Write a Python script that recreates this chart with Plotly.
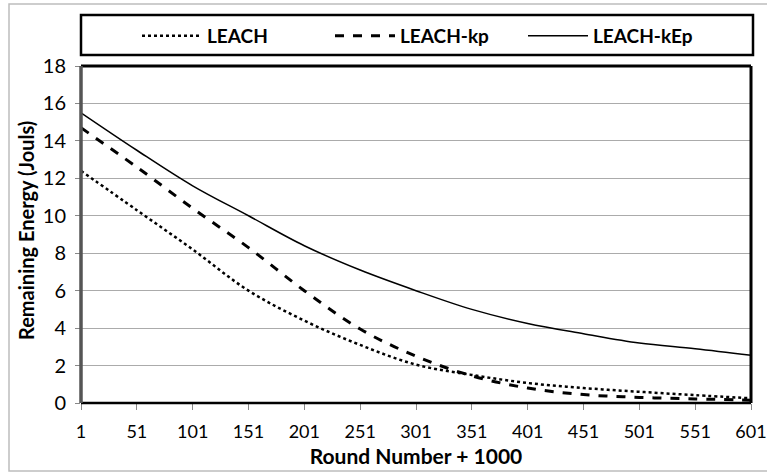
import plotly.graph_objects as go

rounds = [1, 51, 101, 151, 201, 251, 301, 351, 401, 451, 501, 551, 601]
leach = [12.4, 10.3, 8.2, 6.0, 4.4, 3.1, 2.05, 1.5, 1.07, 0.8, 0.6, 0.42, 0.25]
leach_kp = [14.7, 12.6, 10.4, 8.3, 6.0, 3.95, 2.5, 1.45, 0.8, 0.45, 0.3, 0.22, 0.15]
leach_kep = [15.5, 13.5, 11.6, 10.0, 8.4, 7.1, 6.0, 5.0, 4.25, 3.7, 3.2, 2.9, 2.55]
x_ticks = [1, 51, 101, 151, 201, 251, 301, 351, 401, 451, 501, 551, 601]
y_ticks = [0, 2, 4, 6, 8, 10, 12, 14, 16, 18]

FONT = "Lato"

fig = go.Figure()
fig.add_trace(go.Scatter(x=rounds, y=leach, name="LEACH", mode="lines",
                         line=dict(color="black", width=2.5, dash="dot", shape="spline")))
fig.add_trace(go.Scatter(x=rounds, y=leach_kp, name="LEACH-kp", mode="lines",
                         line=dict(color="black", width=3, dash="dash", shape="spline")))
fig.add_trace(go.Scatter(x=rounds, y=leach_kep, name="LEACH-kEp", mode="lines",
                         line=dict(color="black", width=1.5, shape="spline")))

L, R, T, B = 81, 16, 66, 70
W, H = 767, 473
pw, ph = W - L - R, H - T - B

def px(xp):
    return (xp - L) / pw

def py(yp):
    return (H - B - yp) / ph

shapes = [
    # outer frame
    dict(type="rect", xref="paper", yref="paper", x0=px(9), x1=px(770), y0=py(471), y1=py(4),
         line=dict(color="#BDBDBD", width=1.5), layer="above"),
    # legend box
    dict(type="rect", xref="paper", yref="paper", x0=px(81), x1=px(753), y0=py(55), y1=py(15),
         line=dict(color="black", width=2.5)),
    # plot border
    dict(type="line", xref="paper", yref="paper", x0=0, x1=1, y0=1, y1=1, line=dict(color="black", width=3)),
    dict(type="line", xref="paper", yref="paper", x0=1, x1=1, y0=0, y1=1, line=dict(color="black", width=3)),
    dict(type="line", xref="paper", yref="paper", x0=0, x1=1, y0=0, y1=0, line=dict(color="black", width=2.5)),
    dict(type="line", xref="paper", yref="paper", x0=0, x1=0, y0=0, y1=1, line=dict(color="#555555", width=3.5)),
]

fig.update_layout(
    width=W, height=H,
    margin=dict(l=L, r=R, t=T, b=B, autoexpand=False),
    paper_bgcolor="white", plot_bgcolor="white",
    font=dict(family=FONT, color="black"),
    shapes=shapes,
    showlegend=True,
    legend=dict(orientation="h", x=px(137), xanchor="left", y=py(36), yanchor="middle",
                bgcolor="rgba(0,0,0,0)", font=dict(family=FONT, size=19, weight="bold"),
                entrywidth=118, entrywidthmode="pixels", itemwidth=60, tracegroupgap=0),
    annotations=[dict(text="Remaining Energy (Jouls)", textangle=-90, xref="paper", yref="paper",
                      x=px(26), y=py(231), xanchor="center", yanchor="middle", showarrow=False,
                      font=dict(size=20, family=FONT, weight="bold"))],
    xaxis=dict(range=[1, 601], tickmode="array", tickvals=x_ticks, ticktext=[str(v) for v in x_ticks],
               showgrid=False, zeroline=False, showline=False, automargin=False,
               ticks="outside", ticklen=6, tickcolor="#888888", tickwidth=1,
               tickfont=dict(size=18, family=FONT), ticklabelstandoff=6, ticklabeloverflow="allow",
               title=dict(text="Round Number + 1000", font=dict(size=21, family=FONT, weight="bold"), standoff=8)),
    yaxis=dict(range=[0, 18], tickmode="array", tickvals=y_ticks, automargin=False,
               showgrid=True, gridcolor="#ABABAB", gridwidth=1, zeroline=False, showline=False,
               ticks="outside", ticklen=5, tickcolor="#888888",
               tickfont=dict(size=20, family=FONT), ticklabelstandoff=5),
)

fig.write_html("out.html", config={"displayModeBar": False},
               post_script="document.body.style.margin='0';document.body.style.overflow='hidden';")
